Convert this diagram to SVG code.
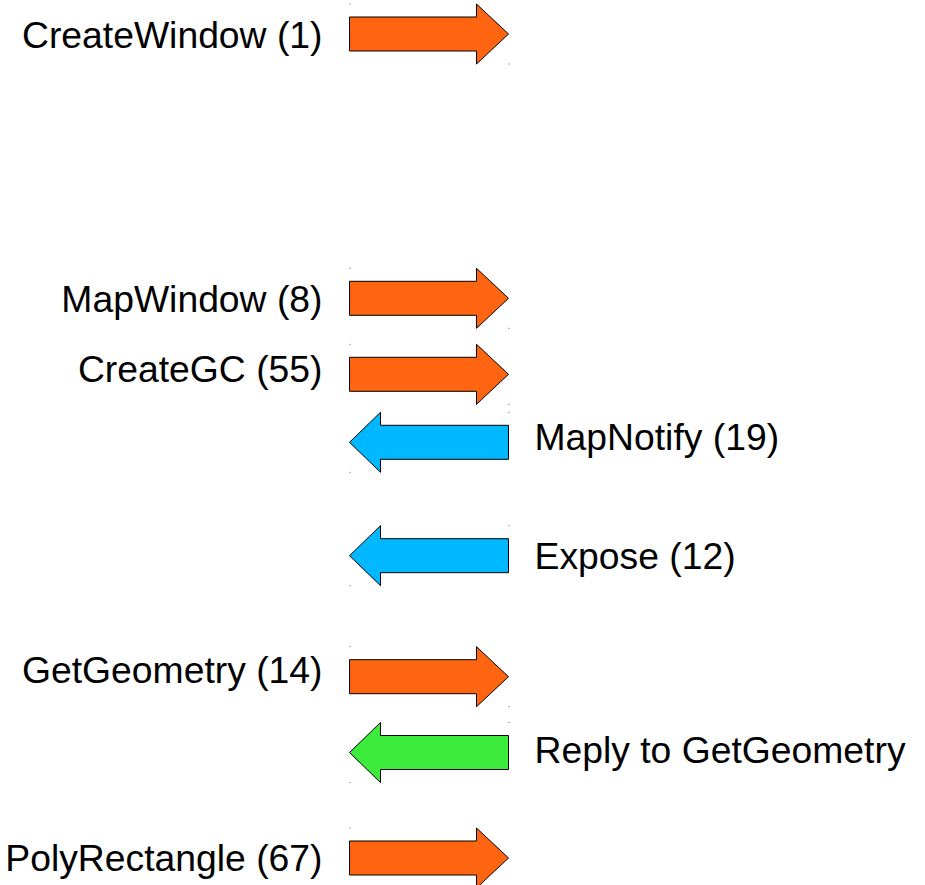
<svg xmlns="http://www.w3.org/2000/svg" xmlns:xlink="http://www.w3.org/1999/xlink" width="925" height="885" viewBox="0 0 925 885">
  <style>
    .lbl { font-family: "Liberation Sans", Arial, sans-serif; font-size: 37.3px; fill: #000; }
    .l { text-anchor: end; }
    .r { text-anchor: start; }
    .arrow { stroke: #000; stroke-width: 1; stroke-linejoin: miter; }
    .req { fill: #ff6410; }
    .evt { fill: #00b8ff; }
    .rep { fill: #3deb3d; }
    .dot { fill: #aaaaaa; }
  </style>
  <defs>
    <path id="rightArrow" d="M349.5,13 H476.5 V0 L508.5,30 L476.5,60 V47 H349.5 Z"/>
    <path id="leftArrow" d="M508.5,13 H380.5 V0 L349.5,30 L380.5,60 V47 H508.5 Z"/>
    <g id="rDots"><rect class="dot" x="349" y="-0.5" width="2" height="1"/><rect class="dot" x="508" y="59.5" width="2" height="1"/></g>
    <g id="lDots"><rect class="dot" x="508" y="-0.5" width="2" height="1"/><rect class="dot" x="349" y="59.5" width="2" height="1"/></g>
  </defs>

  <rect width="925" height="885" fill="#fff"/>

  <g id="createWindow">
    <g transform="translate(0,4)"><use xlink:href="#rightArrow" class="arrow req"/><use xlink:href="#rDots"/></g>
    <text class="lbl l" x="322.5" y="48">CreateWindow (1)</text>
  </g>

  <g id="mapWindow">
    <g transform="translate(0,268.3)"><use xlink:href="#rightArrow" class="arrow req"/><use xlink:href="#rDots"/></g>
    <text class="lbl l" x="322.5" y="312">MapWindow (8)</text>
  </g>

  <g id="createGC">
    <g transform="translate(0,344.3)"><use xlink:href="#rightArrow" class="arrow req"/><use xlink:href="#rDots"/></g>
    <text class="lbl l" x="322.5" y="382">CreateGC (55)</text>
  </g>

  <g id="mapNotify">
    <g transform="translate(0,412.3)"><use xlink:href="#leftArrow" class="arrow evt"/><use xlink:href="#lDots"/></g>
    <text class="lbl r" x="534.5" y="449.5">MapNotify (19)</text>
  </g>

  <g id="expose">
    <g transform="translate(0,525.7)"><use xlink:href="#leftArrow" class="arrow evt"/><use xlink:href="#lDots"/></g>
    <text class="lbl r" x="534.5" y="568.5">Expose (12)</text>
  </g>

  <g id="getGeometry">
    <g transform="translate(0,646.7)"><use xlink:href="#rightArrow" class="arrow req"/><use xlink:href="#rDots"/></g>
    <text class="lbl l" x="322.5" y="683">GetGeometry (14)</text>
  </g>

  <g id="replyGetGeometry">
    <g transform="translate(0,722.5)"><use xlink:href="#leftArrow" class="arrow rep"/><use xlink:href="#lDots"/></g>
    <text class="lbl r" x="534.5" y="762.5">Reply to GetGeometry</text>
  </g>

  <g id="polyRectangle">
    <g transform="translate(0,828)"><use xlink:href="#rightArrow" class="arrow req"/><use xlink:href="#rDots"/></g>
    <text class="lbl l" x="322.5" y="871">PolyRectangle (67)</text>
  </g>

  <g id="connectors"/>
</svg>
